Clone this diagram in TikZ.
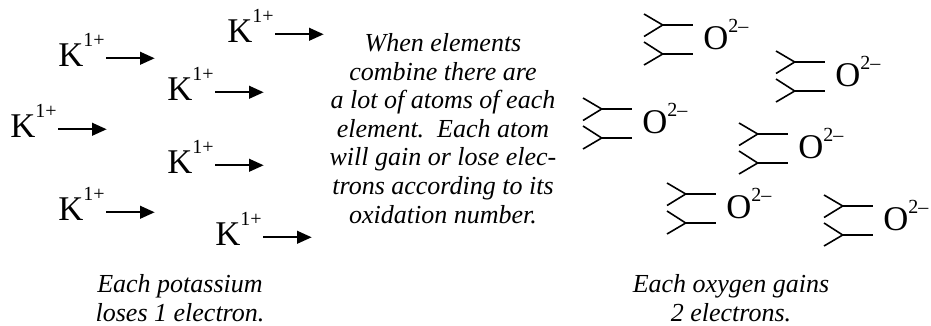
\documentclass[tikz,border=0pt]{standalone}
\usepackage{fontspec}
\setmainfont{Liberation Serif}
\usetikzlibrary{arrows.meta}

% raised charge on an ion symbol
\newcommand{\ionsup}[2]{\raisebox{#1}{\fontsize{15}{15}\selectfont #2}}

\begin{document}
\begin{tikzpicture}[x=0.75pt, y=-0.75pt,
    ion/.style={inner sep=0pt, anchor=base west, font=\fontsize{26}{26}\selectfont},
    elec/.style={-{Triangle[length=11pt, width=9.5pt]}, line width=1.6pt},
    fork/.style={line width=1.2pt},
    note/.style={align=center, inner sep=0pt, font=\fontsize{19.5}{21.4}\selectfont\itshape}]

    \useasboundingbox (0,0) rectangle (931,325);

    % Potassium ions (left edge/baseline), each sending off one electron
    \foreach \x/\y [count=\i] in {227/42, 58/66, 167/100, 10/137, 167/173, 58/220, 215/245} {
        \node[ion] (k\i) at (\x,\y) {K\ionsup{14.5pt}{1+}};
        \coordinate (ke\i) at ([xshift=72.5pt, yshift=5.8pt]k\i.base west);
        \draw[elec] ([xshift=1pt, yshift=5.8pt]k\i.base east) -- (ke\i);
    }

    % Oxygen ions, each with two electron forks
    \foreach \x/\y [count=\i] in {644/14, 776/51, 583/98, 739/123, 667/183, 824/195} {
        \draw[fork] (\x,\y) -- ({\x+18.7},{\y+11}) -- (\x,{\y+22.5});
        \draw[fork] ({\x+18.7},{\y+11}) -- ({\x+48.7},{\y+11});
        \draw[fork] (\x,{\y+28}) -- ({\x+18.7},{\y+40}) -- (\x,{\y+51});
        \draw[fork] ({\x+18.7},{\y+40}) -- ({\x+48.7},{\y+40});
        \node[ion] (o\i) at ({\x+59},{\y+35}) {O\ionsup{12.5pt}{2--}};
    }

    % Middle note (base = last line)
    \node[note, anchor=base] (mid) at (443,223) {When elements\\combine there are\\a lot of atoms of each\\element.\ \ Each atom\\will gain or lose elec-\\trons according to its\\oxidation number.};

    % Captions
    \node[note, anchor=base] (kcap) at (180,321) {Each potassium\\loses 1 electron.};
    \node[note, anchor=base] (ocap) at (731,321) {Each oxygen gains\\2 electrons.};

\end{tikzpicture}
\end{document}
